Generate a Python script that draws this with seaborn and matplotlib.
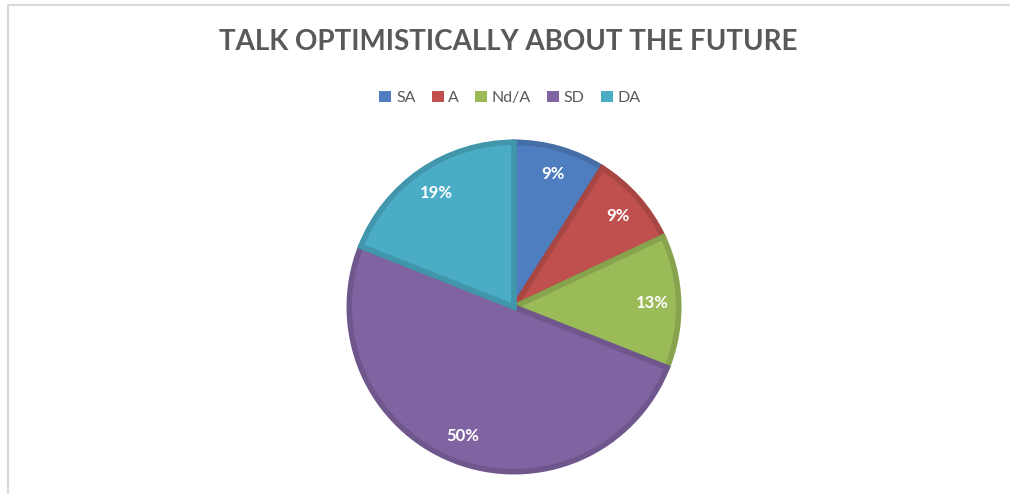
import matplotlib
matplotlib.use("Agg")
import matplotlib.pyplot as plt
import seaborn as sns
from matplotlib.lines import Line2D
from matplotlib.patches import Patch
import matplotlib.colors as mcolors

sns.set_theme(style="white")
plt.rcParams['font.family'] = ['Lato', 'DejaVu Sans']

categories = ["SA", "A", "Nd/A", "SD", "DA"]
values = [9, 9, 13, 50, 19]
colors = ["#4F7EC0", "#C0504D", "#9BBB59", "#8064A2", "#4BACC6"]
title = "TALK OPTIMISTICALLY ABOUT THE FUTURE"

def darker(c, f=0.87):
    r, g, b = mcolors.to_rgb(c)
    return (r * f, g * f, b * f)

fig = plt.figure(figsize=(10.1, 4.94), dpi=100)
fig.patch.set_facecolor("white")

ax = fig.add_axes([346 / 1010, (494 - 475) / 494, 336 / 1010, 336 / 494])
wedges, texts, autotexts = ax.pie(
    values, colors=colors, startangle=90, counterclock=False,
    autopct=lambda p: f"{p:.0f}%", pctdistance=0.84, radius=1,
    wedgeprops=dict(linewidth=4),
    textprops=dict(color="white", fontsize=12, fontweight="bold"),
)
for w, c in zip(wedges, colors):
    w.set_edgecolor(darker(c))
ax.set_xlim(-1.02, 1.02)
ax.set_ylim(-1.02, 1.02)
ax.set_aspect("equal")
ax.axis("off")

fig.text(508 / 1010, 1 - 42 / 494, title, ha="center", va="center",
         fontsize=20, fontweight="bold", color="#595959")

handles = [Patch(facecolor=c, edgecolor="none") for c in colors]
fig.legend(handles, categories, loc="center", bbox_to_anchor=(510 / 1010, 1 - 98 / 494),
           ncol=5, frameon=False, fontsize=11.5, handlelength=0.75, handleheight=0.75,
           handletextpad=0.3, columnspacing=1.0, labelcolor="#595959")

fig.add_artist(Line2D([8 / 1010, 1], [1 - 5 / 494, 1 - 5 / 494], color="#D9D9D9", lw=1.5,
                      transform=fig.transFigure))
fig.add_artist(Line2D([8 / 1010, 8 / 1010], [0, 1 - 5 / 494], color="#D9D9D9", lw=1.5,
                      transform=fig.transFigure))

fig.savefig("out.png", dpi=100, facecolor="white")
